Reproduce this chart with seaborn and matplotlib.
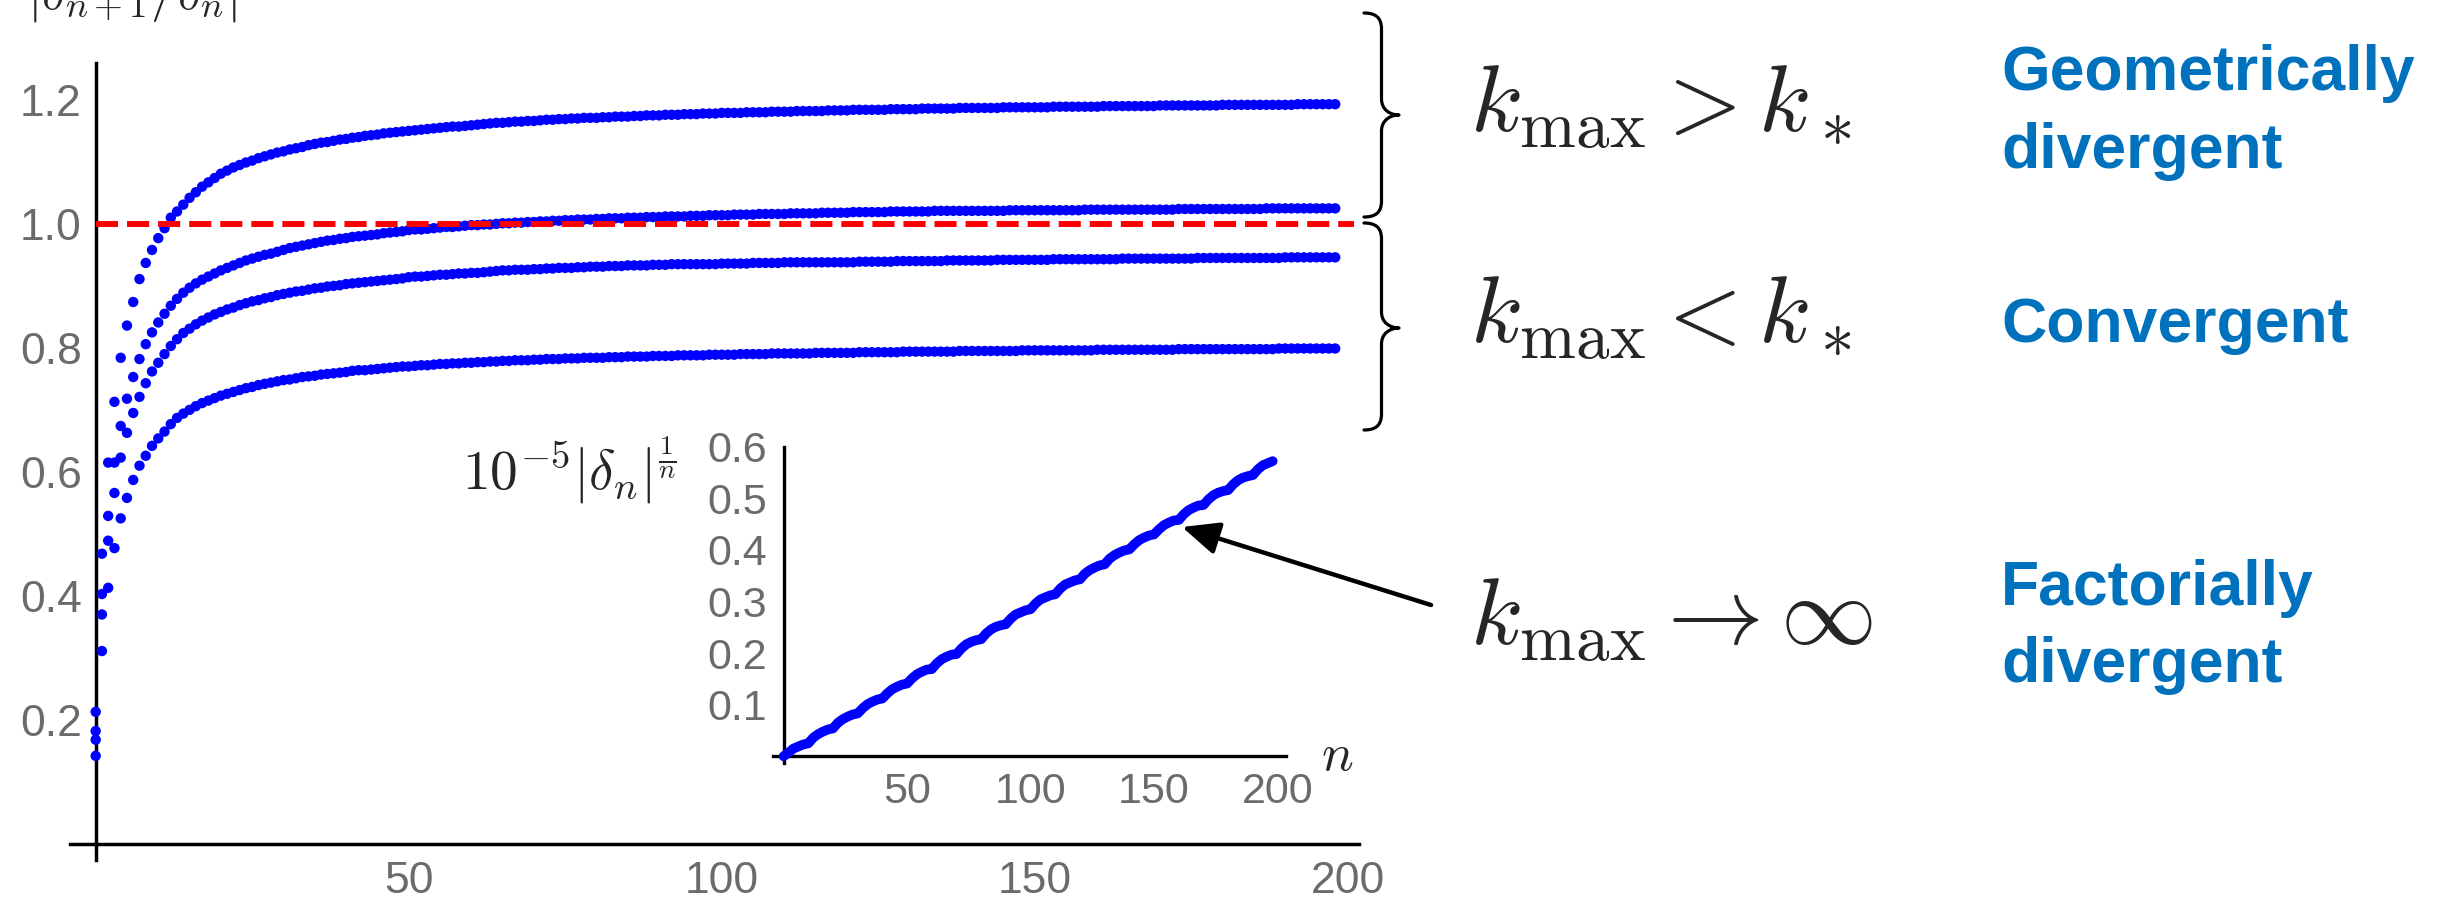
import matplotlib
matplotlib.use("Agg")
import matplotlib.pyplot as plt
from matplotlib.ticker import MultipleLocator
from matplotlib.path import Path
from matplotlib.patches import PathPatch
import pandas as pd
import seaborn as sns

# ---------------------------------------------------------------- data
# |delta_{n+1}/delta_n| for n = 0..198, four truncation orders
n_values = list(range(0, 199))

ratio_geo_high = [
    0.213, 0.468, 0.615, 0.713, 0.784, 0.836, 0.874, 0.911, 0.937, 0.958,
    0.977, 0.993, 1.010, 1.020, 1.031, 1.042, 1.051, 1.060, 1.067, 1.074,
    1.081, 1.086, 1.091, 1.095, 1.099, 1.102, 1.106, 1.109, 1.112, 1.115,
    1.117, 1.120, 1.122, 1.124, 1.127, 1.129, 1.131, 1.132, 1.134, 1.136,
    1.137, 1.139, 1.140, 1.142, 1.143, 1.144, 1.146, 1.147, 1.148, 1.149,
    1.150, 1.151, 1.152, 1.153, 1.154, 1.155, 1.156, 1.157, 1.157, 1.158,
    1.159, 1.160, 1.161, 1.162, 1.163, 1.163, 1.164, 1.165, 1.165, 1.166,
    1.166, 1.167, 1.168, 1.168, 1.169, 1.169, 1.170, 1.170, 1.171, 1.171,
    1.171, 1.172, 1.172, 1.173, 1.173, 1.173, 1.174, 1.174, 1.175, 1.175,
    1.175, 1.176, 1.176, 1.176, 1.177, 1.177, 1.177, 1.178, 1.178, 1.178,
    1.179, 1.179, 1.179, 1.179, 1.180, 1.180, 1.180, 1.180, 1.181, 1.181,
    1.181, 1.181, 1.182, 1.182, 1.182, 1.182, 1.182, 1.183, 1.183, 1.183,
    1.183, 1.184, 1.184, 1.184, 1.184, 1.184, 1.184, 1.185, 1.185, 1.185,
    1.185, 1.185, 1.186, 1.186, 1.186, 1.186, 1.186, 1.186, 1.187, 1.187,
    1.187, 1.187, 1.187, 1.187, 1.187, 1.188, 1.188, 1.188, 1.188, 1.188,
    1.188, 1.188, 1.188, 1.189, 1.189, 1.189, 1.189, 1.189, 1.189, 1.189,
    1.189, 1.190, 1.190, 1.190, 1.190, 1.190, 1.190, 1.190, 1.190, 1.190,
    1.191, 1.191, 1.191, 1.191, 1.191, 1.191, 1.191, 1.191, 1.191, 1.191,
    1.192, 1.192, 1.192, 1.192, 1.192, 1.192, 1.192, 1.192, 1.192, 1.192,
    1.192, 1.192, 1.193, 1.193, 1.193, 1.193, 1.193, 1.193, 1.193,
]

ratio_geo_low = [
    0.182, 0.403, 0.529, 0.615, 0.674, 0.718, 0.753, 0.782, 0.806, 0.825,
    0.841, 0.855, 0.868, 0.879, 0.889, 0.897, 0.904, 0.910, 0.915, 0.920,
    0.925, 0.929, 0.933, 0.937, 0.941, 0.944, 0.947, 0.950, 0.952, 0.955,
    0.958, 0.961, 0.963, 0.965, 0.967, 0.969, 0.971, 0.973, 0.974, 0.976,
    0.977, 0.979, 0.980, 0.981, 0.982, 0.983, 0.985, 0.986, 0.987, 0.988,
    0.990, 0.991, 0.991, 0.992, 0.993, 0.994, 0.995, 0.995, 0.996, 0.997,
    0.998, 0.998, 0.999, 0.999, 1.000, 1.001, 1.001, 1.002, 1.002, 1.003,
    1.003, 1.004, 1.004, 1.005, 1.005, 1.006, 1.006, 1.007, 1.007, 1.007,
    1.008, 1.008, 1.009, 1.009, 1.009, 1.010, 1.010, 1.010, 1.011, 1.011,
    1.011, 1.012, 1.012, 1.012, 1.012, 1.013, 1.013, 1.013, 1.014, 1.014,
    1.014, 1.014, 1.015, 1.015, 1.015, 1.015, 1.016, 1.016, 1.016, 1.016,
    1.016, 1.017, 1.017, 1.017, 1.017, 1.017, 1.018, 1.018, 1.018, 1.018,
    1.018, 1.019, 1.019, 1.019, 1.019, 1.019, 1.019, 1.020, 1.020, 1.020,
    1.020, 1.020, 1.020, 1.020, 1.021, 1.021, 1.021, 1.021, 1.021, 1.021,
    1.021, 1.021, 1.021, 1.021, 1.021, 1.021, 1.022, 1.022, 1.022, 1.022,
    1.022, 1.022, 1.022, 1.022, 1.022, 1.022, 1.022, 1.022, 1.023, 1.023,
    1.023, 1.023, 1.023, 1.023, 1.023, 1.023, 1.023, 1.023, 1.023, 1.023,
    1.023, 1.023, 1.023, 1.024, 1.024, 1.024, 1.024, 1.024, 1.024, 1.024,
    1.024, 1.024, 1.024, 1.024, 1.024, 1.024, 1.024, 1.025, 1.025, 1.025,
    1.025, 1.025, 1.025, 1.025, 1.025, 1.025, 1.025, 1.025, 1.025,
]

ratio_conv_high = [
    0.168, 0.370, 0.489, 0.566, 0.623, 0.663, 0.695, 0.721, 0.743, 0.762,
    0.776, 0.790, 0.803, 0.814, 0.824, 0.831, 0.838, 0.844, 0.849, 0.854,
    0.858, 0.862, 0.865, 0.869, 0.872, 0.875, 0.877, 0.880, 0.882, 0.885,
    0.887, 0.889, 0.891, 0.892, 0.894, 0.896, 0.897, 0.899, 0.900, 0.901,
    0.903, 0.904, 0.905, 0.906, 0.907, 0.908, 0.909, 0.910, 0.911, 0.912,
    0.914, 0.915, 0.915, 0.916, 0.917, 0.918, 0.918, 0.919, 0.920, 0.920,
    0.921, 0.921, 0.922, 0.923, 0.924, 0.925, 0.925, 0.926, 0.926, 0.926,
    0.927, 0.927, 0.928, 0.928, 0.929, 0.929, 0.929, 0.930, 0.930, 0.931,
    0.931, 0.931, 0.932, 0.932, 0.932, 0.933, 0.933, 0.933, 0.933, 0.934,
    0.934, 0.934, 0.935, 0.935, 0.935, 0.935, 0.935, 0.935, 0.935, 0.935,
    0.936, 0.936, 0.936, 0.936, 0.936, 0.937, 0.937, 0.937, 0.937, 0.937,
    0.938, 0.938, 0.938, 0.938, 0.938, 0.938, 0.938, 0.938, 0.938, 0.938,
    0.938, 0.938, 0.939, 0.939, 0.939, 0.939, 0.939, 0.939, 0.940, 0.940,
    0.940, 0.940, 0.940, 0.940, 0.940, 0.940, 0.941, 0.941, 0.941, 0.941,
    0.941, 0.941, 0.941, 0.941, 0.942, 0.942, 0.942, 0.942, 0.942, 0.942,
    0.942, 0.942, 0.942, 0.943, 0.943, 0.943, 0.943, 0.943, 0.943, 0.943,
    0.943, 0.943, 0.943, 0.943, 0.944, 0.944, 0.944, 0.944, 0.944, 0.944,
    0.944, 0.944, 0.944, 0.944, 0.944, 0.944, 0.945, 0.945, 0.945, 0.945,
    0.945, 0.945, 0.945, 0.945, 0.945, 0.945, 0.945, 0.945, 0.945, 0.945,
    0.946, 0.946, 0.946, 0.946, 0.946, 0.946, 0.946, 0.946, 0.946,
]

ratio_conv_low = [
    0.142, 0.311, 0.413, 0.477, 0.525, 0.558, 0.587, 0.610, 0.626, 0.642,
    0.654, 0.665, 0.677, 0.687, 0.694, 0.700, 0.706, 0.711, 0.715, 0.719,
    0.723, 0.726, 0.729, 0.732, 0.735, 0.737, 0.740, 0.742, 0.744, 0.746,
    0.748, 0.749, 0.751, 0.753, 0.754, 0.755, 0.757, 0.758, 0.759, 0.760,
    0.761, 0.763, 0.764, 0.764, 0.765, 0.766, 0.767, 0.768, 0.769, 0.770,
    0.770, 0.771, 0.772, 0.772, 0.773, 0.774, 0.774, 0.775, 0.775, 0.776,
    0.776, 0.777, 0.777, 0.778, 0.778, 0.779, 0.779, 0.780, 0.780, 0.780,
    0.781, 0.781, 0.782, 0.782, 0.782, 0.783, 0.783, 0.783, 0.784, 0.784,
    0.784, 0.784, 0.785, 0.785, 0.785, 0.786, 0.786, 0.786, 0.786, 0.787,
    0.787, 0.787, 0.787, 0.788, 0.788, 0.788, 0.788, 0.788, 0.789, 0.789,
    0.789, 0.789, 0.789, 0.790, 0.790, 0.790, 0.790, 0.790, 0.791, 0.791,
    0.791, 0.791, 0.791, 0.791, 0.791, 0.792, 0.792, 0.792, 0.792, 0.792,
    0.792, 0.792, 0.793, 0.793, 0.793, 0.793, 0.793, 0.793, 0.793, 0.794,
    0.794, 0.794, 0.794, 0.794, 0.794, 0.794, 0.794, 0.794, 0.795, 0.795,
    0.795, 0.795, 0.795, 0.795, 0.795, 0.795, 0.795, 0.795, 0.796, 0.796,
    0.796, 0.796, 0.796, 0.796, 0.796, 0.796, 0.796, 0.796, 0.796, 0.796,
    0.797, 0.797, 0.797, 0.797, 0.797, 0.797, 0.797, 0.797, 0.797, 0.797,
    0.797, 0.797, 0.797, 0.798, 0.798, 0.798, 0.798, 0.798, 0.798, 0.798,
    0.798, 0.798, 0.798, 0.798, 0.798, 0.798, 0.798, 0.798, 0.798, 0.799,
    0.799, 0.799, 0.799, 0.799, 0.799, 0.799, 0.799, 0.799, 0.799,
]

threshold = 1.0

# 10^-5 |delta_n|^(1/n) for the untruncated series (every second n)
inset_n = list(range(0, 199, 2))
inset_growth = [
    0.000, 0.007, 0.015, 0.019, 0.023, 0.025, 0.036, 0.043, 0.048, 0.052,
    0.054, 0.065, 0.072, 0.077, 0.081, 0.083, 0.093, 0.101, 0.106, 0.110,
    0.112, 0.122, 0.130, 0.135, 0.139, 0.141, 0.151, 0.159, 0.164, 0.168,
    0.169, 0.180, 0.188, 0.193, 0.197, 0.198, 0.209, 0.217, 0.222, 0.225,
    0.227, 0.238, 0.246, 0.251, 0.254, 0.256, 0.267, 0.275, 0.279, 0.283,
    0.285, 0.296, 0.304, 0.308, 0.312, 0.314, 0.325, 0.333, 0.337, 0.341,
    0.343, 0.354, 0.361, 0.366, 0.370, 0.372, 0.383, 0.390, 0.395, 0.399,
    0.401, 0.411, 0.419, 0.424, 0.428, 0.430, 0.440, 0.448, 0.453, 0.457,
    0.458, 0.469, 0.477, 0.482, 0.486, 0.487, 0.498, 0.506, 0.511, 0.514,
    0.516, 0.527, 0.535, 0.540, 0.543, 0.545, 0.556, 0.564, 0.568, 0.572,
]

main_xticks = [0, 50, 100, 150, 200]
main_xticklabels = ["", "50", "100", "150", "200"]
main_yticks = [0.0, 0.2, 0.4, 0.6, 0.8, 1.0, 1.2]
main_yticklabels = ["", "0.2", "0.4", "0.6", "0.8", "1.0", "1.2"]
inset_xticks = [0, 50, 100, 150, 200]
inset_xticklabels = ["", "50", "100", "150", "200"]
inset_yticks = [0.0, 0.1, 0.2, 0.3, 0.4, 0.5, 0.6]
inset_yticklabels = ["", "0.1", "0.2", "0.3", "0.4", "0.5", "0.6"]

regime_math = [r"$k_{\mathrm{max}} > k_*$",
               r"$k_{\mathrm{max}} < k_*$",
               r"$k_{\mathrm{max}} \to \infty$"]
regime_names = [["Geometrically", "divergent"],
                ["Convergent"],
                ["Factorially", "divergent"]]

# ---------------------------------------------------------------- style
sns.set_style("white")
plt.rcParams["font.family"] = ["Liberation Sans", "DejaVu Sans"]
plt.rcParams["mathtext.fontset"] = "cm"

DOT_BLUE = "#0000ff"
TICK_GREY = "#6b6b6b"
LABEL_BLUE = "#0071bc"

W, H = 2454, 902
fig = plt.figure(figsize=(W / 100, H / 100), dpi=100)
fig.patch.set_facecolor("white")


def fx(x):
    return x / W


def fy(y):
    return 1 - y / H


# ---------------------------------------------------------------- main panel
ax = fig.add_axes([fx(70), fy(860), 1289 / W, 796.7 / H])
ax.set_facecolor("white")

series = {
    "geo_high": ratio_geo_high,
    "geo_low": ratio_geo_low,
    "conv_high": ratio_conv_high,
    "conv_low": ratio_conv_low,
}
df = pd.concat(
    [pd.DataFrame({"n": n_values, "ratio": vals, "series": name})
     for name, vals in series.items()],
    ignore_index=True,
)
sns.scatterplot(data=df, x="n", y="ratio", hue="series",
                palette=[DOT_BLUE] * 4, s=56, linewidth=0, legend=False,
                ax=ax, zorder=3)

ax.hlines(threshold, 0, 201, colors="#ff0000", linewidth=4.3,
          linestyles=(0, (3.7, 1.5)), zorder=3.5)

ax.set_xlim(-4.1, 201.8)
ax.set_ylim(-0.026, 1.259)
ax.set_xlabel("")
ax.set_ylabel("")
for side in ("top", "right"):
    ax.spines[side].set_visible(False)
ax.spines["left"].set_position(("data", 0))
ax.spines["bottom"].set_position(("data", 0))
for side in ("left", "bottom"):
    ax.spines[side].set_color("black")
    ax.spines[side].set_linewidth(2.5)
    ax.spines[side].set_zorder(2)

ax.set_xticks(main_xticks)
ax.set_xticklabels(main_xticklabels)
ax.set_yticks(main_yticks)
ax.set_yticklabels(main_yticklabels)
ax.xaxis.set_minor_locator(MultipleLocator(10))
ax.yaxis.set_minor_locator(MultipleLocator(0.05))
ax.tick_params(which="both", direction="in", color="#666666", width=2,
               labelsize=32, labelcolor=TICK_GREY)
ax.tick_params(which="major", length=7.5)
ax.tick_params(which="minor", length=4)
ax.tick_params(axis="x", pad=12.5)
ax.tick_params(axis="y", pad=10)
ax.xaxis.set_zorder(4)
ax.yaxis.set_zorder(4)

fig.text(fx(27), fy(9), r"$|\delta_{n+1}/\delta_n|$", fontsize=38,
         ha="left", va="baseline")

# ---------------------------------------------------------------- inset
axin = fig.add_axes([fx(772.7), fy(763), 513.3 / W, 316.3 / H])
axin.patch.set_alpha(0)
sns.lineplot(x=inset_n, y=inset_growth, ax=axin, color=DOT_BLUE,
             linewidth=7, solid_capstyle="round", zorder=3)
axin.set_xlim(-4.4, 203.4)
axin.set_ylim(-0.013, 0.6)
for side in ("top", "right"):
    axin.spines[side].set_visible(False)
axin.spines["left"].set_position(("data", 0))
axin.spines["bottom"].set_position(("data", 0))
for side in ("left", "bottom"):
    axin.spines[side].set_color("black")
    axin.spines[side].set_linewidth(2.4)
axin.set_xticks(inset_xticks)
axin.set_xticklabels(inset_xticklabels)
axin.set_yticks(inset_yticks)
axin.set_yticklabels(inset_yticklabels)
axin.xaxis.set_minor_locator(MultipleLocator(10))
axin.yaxis.set_minor_locator(MultipleLocator(0.02))
axin.tick_params(which="both", direction="in", color="#333333", width=1.6,
                 labelsize=31, labelcolor=TICK_GREY)
axin.tick_params(which="major", length=4.5)
axin.tick_params(which="minor", length=3)
axin.tick_params(axis="x", pad=11)
axin.tick_params(axis="y", pad=12)
axin.set_xlabel("")
axin.set_ylabel("")

fig.text(fx(676), fy(489), r"$10^{-5}|\delta_n|^{\frac{1}{n}}$", fontsize=40,
         ha="right", va="baseline")
fig.text(fx(1321), fy(770), r"$n$", fontsize=38, ha="left", va="baseline")

# ---------------------------------------------------------------- braces
def brace(x_curl, x_stem, x_tip, y_top, y_mid, y_bot):
    r = 16
    pts = [
        (x_curl, y_top),
        (x_curl + 11, y_top), (x_stem, y_top + 4), (x_stem, y_top + r),
        (x_stem, y_mid - r),
        (x_stem, y_mid - 5), (x_stem + 9, y_mid), (x_tip, y_mid),
        (x_stem + 9, y_mid), (x_stem, y_mid + 5), (x_stem, y_mid + r),
        (x_stem, y_bot - r),
        (x_stem, y_bot - 4), (x_curl + 11, y_bot), (x_curl, y_bot),
    ]
    codes = ([Path.MOVETO] + [Path.CURVE4] * 3 + [Path.LINETO]
             + [Path.CURVE4] * 6 + [Path.LINETO] + [Path.CURVE4] * 3)
    verts = [(fx(x), fy(y)) for x, y in pts]
    patch = PathPatch(Path(verts, codes), transform=fig.transFigure,
                      facecolor="none", edgecolor="black", linewidth=2.3,
                      capstyle="round", joinstyle="round")
    fig.add_artist(patch)


brace(1364, 1381.5, 1399, 13, 115, 217)
brace(1364, 1381.5, 1399, 223, 328, 430)

# ---------------------------------------------------------------- regime labels
math_baselines = [132, 343, 645]
for text, yb in zip(regime_math, math_baselines):
    fig.text(fx(1470), fy(yb), text, fontsize=69, ha="left", va="baseline")

name_baselines = [[90, 168], [342], [605, 682]]
for lines, ys in zip(regime_names, name_baselines):
    for line, yb in zip(lines, ys):
        fig.text(fx(2001), fy(yb), line, fontsize=45, fontweight="bold",
                 color=LABEL_BLUE, ha="left", va="baseline",
                 family=["Liberation Sans", "DejaVu Sans"])

# ---------------------------------------------------------------- arrow
ax.annotate("", xy=(1182, H - 527), xycoords="figure pixels",
            xytext=(1431, H - 605), textcoords="figure pixels",
            arrowprops=dict(arrowstyle="-|>,head_length=0.45,head_width=0.2",
                            mutation_scale=50, lw=3.2, color="black",
                            shrinkA=0, shrinkB=0),
            annotation_clip=False)

fig.savefig("out.png", dpi=100, facecolor="white")
